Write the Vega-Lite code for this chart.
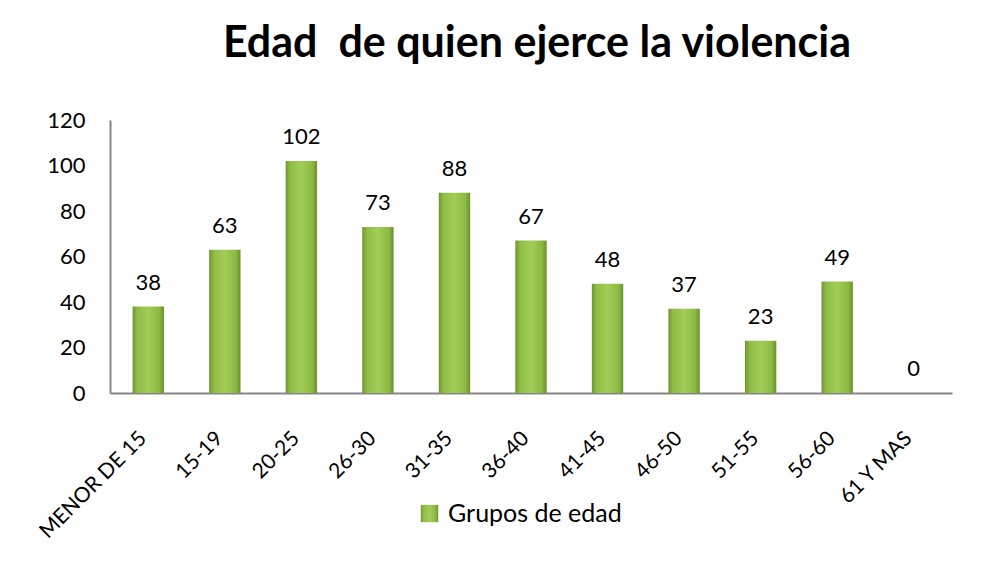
{
  "$schema": "https://vega.github.io/schema/vega-lite/v6.json",
  "width": 842,
  "height": 273,
  "autosize": {"type": "none"},
  "padding": {"left": 110, "top": 120, "right": 55, "bottom": 181},
  "background": "white",
  "config": {"view": {"stroke": null}},
  "title": {
    "text": "Edad\u00a0 de quien ejerce la violencia",
    "font": "Lato",
    "fontSize": 43,
    "fontWeight": "bold",
    "color": "#000000",
    "anchor": "middle",
    "frame": "group",
    "baseline": "alphabetic",
    "offset": 9,
    "dx": 6
  },
  "data": {
    "values": [
      {"grupo": "MENOR DE 15", "n": 38},
      {"grupo": "15-19", "n": 63},
      {"grupo": "20-25", "n": 102},
      {"grupo": "26-30", "n": 73},
      {"grupo": "31-35", "n": 88},
      {"grupo": "36-40", "n": 67},
      {"grupo": "41-45", "n": 48},
      {"grupo": "46-50", "n": 37},
      {"grupo": "51-55", "n": 23},
      {"grupo": "56-60", "n": 49},
      {"grupo": "61 Y MAS", "n": 0}
    ]
  },
  "encoding": {
    "x": {
      "field": "grupo",
      "type": "nominal",
      "sort": null,
      "scale": {"paddingInner": 0.59, "paddingOuter": 0.295},
      "axis": {
        "title": null,
        "labelAngle": -45,
        "labelAlign": "right",
        "labelBaseline": "middle",
        "labelFont": "Lato",
        "labelFontSize": 21,
        "labelColor": "#000000",
        "labelPadding": 42,
        "labelOffset": -5,
        "ticks": false,
        "tickSize": 0,
        "domainColor": "#868686",
        "domainWidth": 2,
        "grid": false
      }
    },
    "y": {
      "field": "n",
      "type": "quantitative",
      "scale": {"domain": [0, 120], "nice": false},
      "axis": {
        "title": null,
        "values": [0, 20, 40, 60, 80, 100, 120],
        "labelFont": "Lato",
        "labelFontSize": 22,
        "labelColor": "#000000",
        "labelPadding": 25,
        "ticks": false,
        "tickSize": 0,
        "domainColor": "#868686",
        "domainWidth": 2,
        "grid": false
      }
    }
  },
  "layer": [
    {
      "mark": {
        "type": "bar",
        "color": {
          "gradient": "linear",
          "x1": 0, "y1": 0, "x2": 1, "y2": 0,
          "stops": [
            {"offset": 0, "color": "#6f9630"},
            {"offset": 0.15, "color": "#8fbc45"},
            {"offset": 0.5, "color": "#a2ce57"},
            {"offset": 0.85, "color": "#8cb943"},
            {"offset": 1, "color": "#6a902c"}
          ]
        }
      },
      "encoding": {
        "opacity": {
          "datum": "Grupos de edad",
          "type": "nominal",
          "scale": {"type": "ordinal", "range": [1]},
          "legend": {
            "title": null,
            "orient": "none",
            "legendX": 307,
            "legendY": 381,
            "symbolType": "square",
            "symbolSize": 300,
            "symbolFillColor": "#8cb843",
            "symbolStrokeColor": "#6e942e",
            "symbolStrokeWidth": 1,
            "symbolOpacity": 1,
            "labelFont": "Lato",
            "labelFontSize": 25,
            "labelLimit": 400,
            "labelColor": "#000000",
            "labelOffset": 6,
            "padding": 0
          }
        }
      }
    },
    {
      "mark": {
        "type": "text",
        "dy": -17,
        "baseline": "alphabetic",
        "font": "Lato",
        "fontSize": 22,
        "color": "#000000"
      },
      "encoding": {"text": {"field": "n", "type": "quantitative"}}
    }
  ]
}
